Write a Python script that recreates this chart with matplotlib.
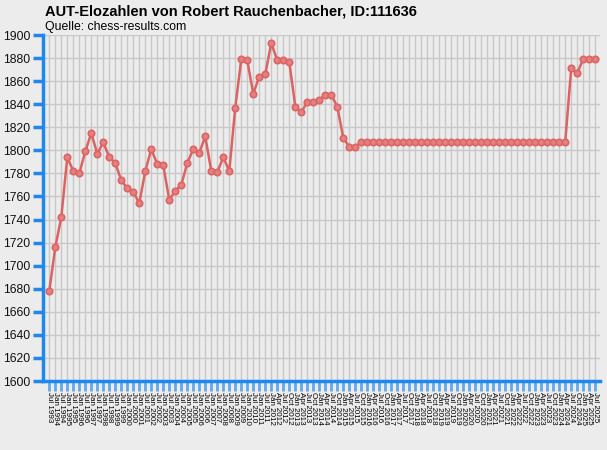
import matplotlib
matplotlib.use("Agg")
import matplotlib.pyplot as plt
import numpy as np

# ---- data ----
dates = []
# semiannual lists Jul 1993 .. Jul 2011
dates.append("Jul 1993")
for y in range(1994, 2012):
    dates.append(f"Jan {y}")
    dates.append(f"Jul {y}")
# quarterly lists Jan 2012 .. Jul 2025
for y in range(2012, 2026):
    for m in ["Jan", "Apr", "Jul", "Oct"]:
        if y == 2025 and m == "Oct":
            continue
        dates.append(f"{m} {y}")

ratings = [1678, 1716, 1742, 1794, 1782, 1780, 1799, 1815, 1797, 1807,
           1794, 1789, 1774, 1767, 1764, 1754, 1782, 1801, 1788, 1787,
           1757, 1765, 1770, 1789, 1801, 1798, 1812, 1782, 1781, 1794,
           1782, 1837, 1879, 1878, 1849, 1864, 1866, 1893, 1878, 1878,
           1877, 1838, 1833, 1842, 1842, 1844, 1848, 1848, 1838, 1811,
           1803, 1803] + [1807] * 35 + [1871, 1867, 1879, 1879, 1879]

yticks = list(range(1600, 1901, 20))

title = "AUT-Elozahlen von Robert Rauchenbacher, ID:111636"
subtitle = "Quelle: chess-results.com"

# ---- plot ----
plt.rcParams['font.family'] = ['Liberation Sans', 'DejaVu Sans']
W, H = 607, 450
fig = plt.figure(figsize=(W / 100, H / 100), dpi=100)
bg = "#ececec"
fig.patch.set_facecolor(bg)
ax = fig.add_axes([43 / W, 1 - 381 / H, (600 - 43) / W, (381 - 35) / H])
ax.set_facecolor(bg)

x = np.arange(len(ratings))
ax.plot(x, ratings, color="#dd6262", lw=1.8, marker="o",
        ms=4.6, mfc="#e58080", mec="#dc6464", mew=1.2, zorder=3, clip_on=False)

ax.set_xlim(-1.05, 91.8)
ax.set_ylim(1600, 1900)
ax.set_yticks(yticks)
ax.set_yticklabels([str(v) for v in yticks], fontsize=8.8)
ax.set_xticks(x)
ax.set_xticklabels(dates, rotation=-90, fontsize=5.8, va="top", ha="center")

ax.grid(True, color="#c8c8c8", lw=1)
ax.set_axisbelow(True)
for s in ["top", "right"]:
    ax.spines[s].set_visible(False)
for s in ["left", "bottom"]:
    ax.spines[s].set_color("#1e88f0")
    ax.spines[s].set_linewidth(2.5)
ax.tick_params(axis="y", colors="#1e88f0", length=7, width=2.5, labelcolor="#111111", pad=2)
ax.tick_params(axis="x", colors="#60a8f0", length=7, width=2, labelcolor="black", pad=1)

fig.text(45 / W, 1 - 12 / H, title, fontsize=10.5, fontweight="bold", va="center", ha="left")
fig.text(45 / W, 1 - 27 / H, subtitle, fontsize=8.8, va="center", ha="left")

fig.savefig("out.png", dpi=100, facecolor=bg)
